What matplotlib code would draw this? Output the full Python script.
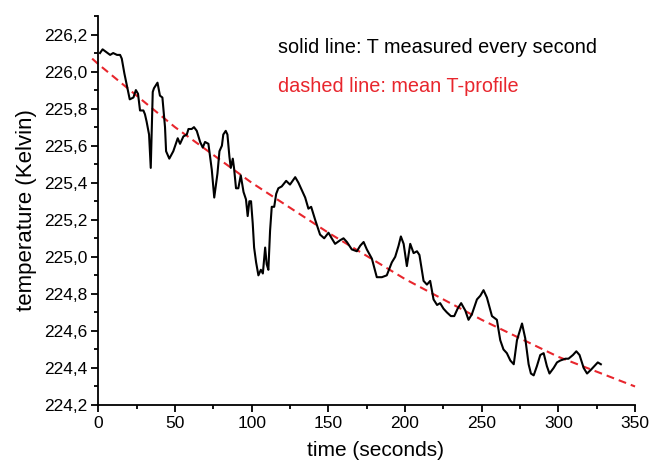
import numpy as np
import matplotlib
matplotlib.use("Agg")
import matplotlib.pyplot as plt
from matplotlib.ticker import MultipleLocator, FuncFormatter

plt.rcParams['font.family'] = ['Liberation Sans', 'DejaVu Sans']

# measured temperature, one reading per second
t_meas = [1.1, 2.8, 7.7, 9.7, 12.2, 14.2, 15.3, 17.0, 18.5, 20.5, 22.9, 24.5, 25.9,
          27.2, 29.4, 30.4, 31.5, 33.1, 34.2, 35.5, 36.3, 38.6, 40.2, 41.8, 43.5,
          44.2, 46.3, 48.9, 51.8, 53.3, 55.5, 57.7, 58.8, 60.9, 62.4, 64.2, 66.4,
          68.1, 69.6, 71.8, 74.0, 75.6, 77.7, 79.0, 80.6, 81.5, 83.1, 84.2, 85.5,
          86.4, 87.7, 88.5, 89.8, 91.3, 92.9, 94.7, 96.3, 97.4, 98.5, 99.6, 100.7,
          101.6, 102.9, 104.4, 106.0, 107.3, 108.8, 109.8, 110.9, 112.0, 113.1,
          114.7, 116.0, 117.4, 119.6, 122.5, 125.0, 128.4, 130.5, 134.9, 137.0,
          138.8, 141.4, 144.6, 147.3, 150.1, 152.2, 154.4, 157.8, 159.9, 162.1,
          165.3, 168.6, 170.8, 173.0, 175.1, 178.4, 181.6, 184.9, 188.1, 191.4,
          193.6, 195.8, 197.3, 199.1, 201.2, 203.4, 205.6, 207.8, 209.4, 212.1,
          214.3, 216.4, 218.6, 220.9, 222.9, 225.1, 227.3, 229.9, 232.1, 234.3,
          236.6, 239.3, 241.4, 243.6, 246.9, 249.1, 251.2, 253.4, 256.7, 259.9,
          262.1, 264.2, 266.4, 268.7, 270.9, 273.0, 276.3, 278.4, 280.6, 282.1,
          283.9, 286.0, 288.2, 290.4, 292.5, 294.2, 296.9, 299.1, 301.2, 304.6,
          306.6, 309.5, 311.7, 313.8, 316.5, 318.7, 321.2, 323.5, 325.7, 327.7]
T_meas = [226.10, 226.12, 226.09, 226.10, 226.09, 226.09, 226.07, 225.99, 225.93,
          225.85, 225.86, 225.90, 225.88, 225.79, 225.79, 225.77, 225.73, 225.66,
          225.48, 225.89, 225.91, 225.94, 225.87, 225.86, 225.70, 225.57, 225.53,
          225.57, 225.64, 225.61, 225.65, 225.66, 225.69, 225.69, 225.70, 225.68,
          225.62, 225.59, 225.62, 225.61, 225.47, 225.32, 225.45, 225.57, 225.60,
          225.66, 225.68, 225.66, 225.54, 225.48, 225.53, 225.48, 225.37, 225.37,
          225.44, 225.35, 225.31, 225.22, 225.30, 225.30, 225.18, 225.05, 224.97,
          224.90, 224.93, 224.91, 225.05, 224.96, 224.93, 225.14, 225.27, 225.27,
          225.34, 225.37, 225.38, 225.41, 225.39, 225.43, 225.40, 225.32, 225.26,
          225.27, 225.20, 225.12, 225.10, 225.13, 225.10, 225.07, 225.09, 225.10,
          225.08, 225.04, 225.03, 225.06, 225.08, 225.04, 224.99, 224.89, 224.89,
          224.90, 224.97, 225.00, 225.06, 225.11, 225.07, 224.95, 225.07, 225.02,
          225.03, 225.01, 224.87, 224.85, 224.87, 224.77, 224.74, 224.75, 224.72,
          224.70, 224.68, 224.68, 224.72, 224.75, 224.71, 224.66, 224.69, 224.77,
          224.79, 224.82, 224.78, 224.68, 224.66, 224.55, 224.50, 224.48, 224.44,
          224.42, 224.55, 224.64, 224.56, 224.42, 224.37, 224.36, 224.41, 224.47,
          224.48, 224.41, 224.37, 224.40, 224.43, 224.44, 224.45, 224.45, 224.47,
          224.49, 224.47, 224.40, 224.37, 224.39, 224.41, 224.43, 224.42]

# mean temperature profile
t_mean = [-4, 0, 50, 100, 150, 200, 250, 300, 350]
T_mean = [226.07, 226.04, 225.70, 225.40, 225.13, 224.88, 224.66, 224.46, 224.30]

x_ticks = [0, 50, 100, 150, 200, 250, 300, 350]
y_ticks = [224.2, 224.4, 224.6, 224.8, 225.0, 225.2, 225.4, 225.6, 225.8, 226.0, 226.2]

fig = plt.figure(figsize=(6.51, 4.65), dpi=100)
ax = fig.add_axes([0.151, 0.129, 0.8245, 0.8366])

ax.plot(t_mean, T_mean, color='#e8262d', lw=1.5, dashes=(3.8, 2.4), clip_on=False)
ax.plot(t_meas, T_meas, color='black', lw=1.5)

ax.set_xlim(0, 350)
ax.set_ylim(224.2, 226.3)
ax.set_xticks(x_ticks)
ax.set_yticks(y_ticks)
ax.xaxis.set_minor_locator(MultipleLocator(25))
ax.yaxis.set_minor_locator(MultipleLocator(0.1))
ax.yaxis.set_major_formatter(FuncFormatter(lambda v, p: f"{v:.1f}".replace('.', ',')))

for s in ['top', 'right']:
    ax.spines[s].set_visible(False)
for s in ['left', 'bottom']:
    ax.spines[s].set_linewidth(1.3)

ax.tick_params(which='major', direction='out', length=5, width=1.3, labelsize=12.5, pad=3)
ax.tick_params(which='minor', direction='out', length=3, width=1.3)

ax.set_xlabel('time (seconds)', fontsize=15)
ax.xaxis.set_label_coords(0.517, -0.093)
ax.set_ylabel('temperature (Kelvin)', fontsize=16, labelpad=5)

ax.text(0.334, 0.918, 'solid line: T measured every second', transform=ax.transAxes,
        fontsize=14.3, color='black', va='center')
ax.text(0.334, 0.820, 'dashed line: mean T-profile', transform=ax.transAxes,
        fontsize=14.3, color='#e8262d', va='center')

fig.savefig('out.png', dpi=100)
